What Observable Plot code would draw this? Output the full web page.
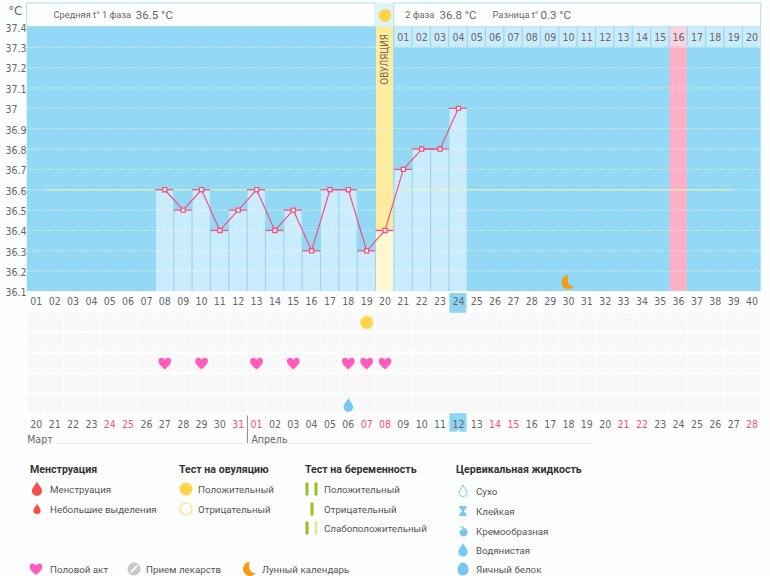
<!DOCTYPE html>
<html lang="ru">
<head>
<meta charset="utf-8">
<script src="https://cdn.jsdelivr.net/npm/d3@7"></script>
<script src="https://cdn.jsdelivr.net/npm/@observablehq/plot@0.6"></script>
<style>
  html, body { margin: 0; padding: 0; background: #fdfefe; }
  body { width: 770px; height: 576px; overflow: hidden; position: relative; font-family: Roboto, sans-serif; }
  svg { display: block; }
  #legend { position: absolute; left: 0; top: 456px; width: 770px; height: 120px; font-size: 9.75px; color: #555; }
  #legend .t { position: absolute; white-space: nowrap; transform: translateY(-50%); line-height: 14px; margin-top: 0.6px; }
  #legend .h { font-weight: 700; color: #333; font-size: 10.6px; margin-top: 0; }
  #legend svg { position: absolute; overflow: visible; }
</style>
</head>
<body>
<div id="chart"></div>
<div id="legend"></div>
<script>
// ---- data ----
const days = d3.range(1, 41);
const temperatureDays = [8, 9, 10, 11, 12, 13, 14, 15, 16, 17, 18, 19, 20, 21, 22, 23, 24];
const temperatures = [36.6, 36.5, 36.6, 36.4, 36.5, 36.6, 36.4, 36.5, 36.3, 36.6, 36.6, 36.3, 36.4, 36.7, 36.8, 36.8, 37.0];
const temperatureTicks = [37.4, 37.3, 37.2, 37.1, 37.0, 36.9, 36.8, 36.7, 36.6, 36.5, 36.4, 36.3, 36.2, 36.1];
const lutealDays = [21, 22, 23, 24, 25, 26, 27, 28, 29, 30, 31, 32, 33, 34, 35, 36, 37, 38, 39, 40];
const lutealLabels = ["01", "02", "03", "04", "05", "06", "07", "08", "09", "10", "11", "12", "13", "14", "15", "16", "17", "18", "19", "20"];
const calendarLabels = ["20", "21", "22", "23", "24", "25", "26", "27", "28", "29", "30", "31", "01", "02", "03", "04", "05", "06", "07", "08", "09", "10", "11", "12", "13", "14", "15", "16", "17", "18", "19", "20", "21", "22", "23", "24", "25", "26", "27", "28"];
const weekendDays = [5, 6, 12, 13, 19, 20, 26, 27, 33, 34, 40];
const ovulationDay = 20;
const todayDay = 24;
const expectedPeriodDay = 36;
const moonDay = 30;
const coverTemperature = 36.6;
const intercourseDays = [8, 10, 13, 15, 18, 19, 20];
const ovulationTestDays = [19];
const mucusDays = [18];
const rows = [1, 2, 3, 4, 5];
const temps = temperatureDays.map((day, i) => ({day, temp: temperatures[i]}));
const cells = d3.cross(days, rows).map(([day, row]) => ({day, row}));

// ---- colours ----
const GREY = "#666", RED = "#f2527c", SKY = "#93d9f6", PALE = "#cbecfd", YELLOW = "#ffd54a";
const FONT = "'DejaVu Sans Condensed', 'DejaVu Sans', sans-serif";
const CAPTION = "Roboto, sans-serif";

// ---- glyphs ----
const heart = {draw(c, size) {
  const r = Math.sqrt(size / Math.PI);
  c.moveTo(0, 0.95 * r);
  c.bezierCurveTo(-1.35 * r, 0.05 * r, -1.15 * r, -0.85 * r, -0.5 * r, -0.85 * r);
  c.bezierCurveTo(-0.25 * r, -0.85 * r, -0.07 * r, -0.7 * r, 0, -0.5 * r);
  c.bezierCurveTo(0.07 * r, -0.7 * r, 0.25 * r, -0.85 * r, 0.5 * r, -0.85 * r);
  c.bezierCurveTo(1.15 * r, -0.85 * r, 1.35 * r, 0.05 * r, 0, 0.95 * r);
  c.closePath();
}};
const drop = {draw(c, size) {
  const r = Math.sqrt(size / Math.PI);
  c.moveTo(0, -1.1 * r);
  c.bezierCurveTo(0.12 * r, -0.6 * r, 0.72 * r, -0.25 * r, 0.72 * r, 0.28 * r);
  c.arc(0, 0.28 * r, 0.72 * r, 0, Math.PI);
  c.bezierCurveTo(-0.72 * r, -0.25 * r, -0.12 * r, -0.6 * r, 0, -1.1 * r);
  c.closePath();
}};
const crescent = {draw(c, size) {
  const r = Math.sqrt(size / Math.PI);
  c.moveTo(-0.05 * r, -r);
  c.arc(0, 0, r, -Math.PI * 0.52, Math.PI * 0.2, true);
  c.bezierCurveTo(0.3 * r, 0.65 * r, -0.35 * r, 0.2 * r, -0.05 * r, -r);
  c.closePath();
}};
const hourglass = {draw(c, size) {
  const r = Math.sqrt(size / Math.PI);
  c.moveTo(-0.75 * r, -r); c.lineTo(0.75 * r, -r); c.lineTo(0.75 * r, -0.7 * r);
  c.lineTo(0.18 * r, 0); c.lineTo(0.75 * r, 0.7 * r); c.lineTo(0.75 * r, r);
  c.lineTo(-0.75 * r, r); c.lineTo(-0.75 * r, 0.7 * r); c.lineTo(-0.18 * r, 0);
  c.lineTo(-0.75 * r, -0.7 * r); c.closePath();
}};
const creamy = {draw(c, size) {
  const r = Math.sqrt(size / Math.PI);
  c.moveTo(-0.8 * r, -r);
  c.bezierCurveTo(0, -0.8 * r, 0.85 * r, -0.4 * r, 0.85 * r, 0.25 * r);
  c.arc(0.1 * r, 0.25 * r, 0.75 * r, 0, Math.PI);
  c.bezierCurveTo(-0.65 * r, -0.1 * r, -0.2 * r, -0.35 * r, 0.05 * r, -0.3 * r);
  c.bezierCurveTo(-0.2 * r, -0.6 * r, -0.5 * r, -0.8 * r, -0.8 * r, -r);
  c.closePath();
}};
const egg = {draw(c, size) {
  const r = Math.sqrt(size / Math.PI);
  c.moveTo(0, -r);
  c.bezierCurveTo(0.5 * r, -r, 0.85 * r, -0.35 * r, 0.85 * r, 0.15 * r);
  c.bezierCurveTo(0.85 * r, 0.65 * r, 0.45 * r, r, 0, r);
  c.bezierCurveTo(-0.45 * r, r, -0.85 * r, 0.65 * r, -0.85 * r, 0.15 * r);
  c.bezierCurveTo(-0.85 * r, -0.35 * r, -0.5 * r, -r, 0, -r);
  c.closePath();
}};

// ---- upper chart: temperature ----
const xScale = {domain: [0.5, 40.5], range: [26.7, 760.7], axis: null};
const top0 = 37.515; // upper edge of the header strip
const base = 36.1;
const one = [0];

const upper = Plot.plot({
  width: 770, height: 313,
  marginLeft: 26.7, marginRight: 9.3, marginTop: 3, marginBottom: 22,
  x: xScale,
  y: {domain: [base, top0], range: [291, 3], axis: null},
  style: {background: "transparent", fontFamily: FONT, fontSize: "10.5px", color: GREY},
  marks: [
    Plot.rect(one, {x1: 0.5, x2: 40.5, y1: base, y2: 37.4, fill: SKY}),
    // header strip
    Plot.rect(one, {x1: 0.5, x2: 19.5, y1: 37.4, y2: top0, fill: "#fff", stroke: "#a6e0f8"}),
    Plot.rect(one, {x1: 19.5, x2: 20.5, y1: 37.4, y2: top0, fill: "#def3fd"}),
    Plot.rect(one, {x1: 20.5, x2: 40.5, y1: 37.4, y2: top0, fill: "#fff", stroke: "#a6e0f8"}),
    // luteal day strip
    Plot.rect(lutealDays, {x1: d => d - 0.5, x2: d => d + 0.5, y1: 37.3, y2: 37.4, insetLeft: 0.6, insetRight: 0.6,
      fill: d => d === expectedPeriodDay ? "#fbd3de" : PALE}),
    // expected period and ovulation bands
    Plot.rect(one, {x1: expectedPeriodDay - 0.5, x2: expectedPeriodDay + 0.5, y1: base, y2: 37.3, insetLeft: 0.6, insetRight: 0.6, fill: "#feb0c6"}),
    Plot.rect(one, {x1: ovulationDay - 0.5, x2: ovulationDay + 0.5, y1: base, y2: 37.4, insetLeft: 0.6, insetRight: 0.6, fill: "#fdec9e"}),
    // temperature columns
    Plot.rect(temps, {x1: d => d.day - 0.5, x2: d => d.day + 0.5, y1: base, y2: "temp", insetLeft: 0.8, insetRight: 0.4,
      fill: d => d.day === ovulationDay ? "#fff6d2" : PALE}),
    // grid
    Plot.ruleY(temperatureTicks.slice(1), {x1: 0.5, x2: 40.5, stroke: "#fff", strokeDasharray: "1 2", strokeWidth: 1, strokeOpacity: 0.95}),
    Plot.ruleY([coverTemperature], {x1: 1.5, x2: 38.95, stroke: "#eef3a8", strokeWidth: 1}),
    // temperature line
    Plot.ruleY(temps, {y: "temp", x1: d => d.day - 0.5, x2: d => d.day + 0.5, stroke: RED, strokeWidth: 1.3}),
    Plot.line(temps, {x: "day", y: "temp", stroke: RED, strokeWidth: 1.2}),
    Plot.dot(temps, {x: "day", y: "temp", symbol: "square", r: 2.3, fill: "#fff", stroke: RED, strokeWidth: 1.3}),
    // moon, ovulation marker
    Plot.dot(one, {x: moonDay, y: 36.146, symbol: crescent, r: 7, fill: "#f39a16"}),
    Plot.dot(one, {x: ovulationDay, y: 37.456, r: 6.5, fill: YELLOW}),
    Plot.text(["ОВУЛЯЦИЯ"], {x: ovulationDay, y: 37.24, rotate: -90, fill: "#6f6a50", fontSize: 9.8}),
    // header captions
    Plot.text(["Средняя t° 1 фаза"], {x: 1.93, y: 37.456, textAnchor: "start", fontFamily: CAPTION, fontSize: 9.3, fill: GREY}),
    Plot.text(["36.5 °C"], {x: 6.42, y: 37.456, textAnchor: "start", fontFamily: CAPTION, fontSize: 11.5, fill: GREY}),
    Plot.text(["2 фаза"], {x: 21.1, y: 37.456, textAnchor: "start", fontFamily: CAPTION, fontSize: 9.3, fill: GREY}),
    Plot.text(["36.8 °C"], {x: 22.97, y: 37.456, textAnchor: "start", fontFamily: CAPTION, fontSize: 11.5, fill: GREY}),
    Plot.text(["Разница t°"], {x: 25.86, y: 37.456, textAnchor: "start", fontFamily: CAPTION, fontSize: 9.3, fill: GREY}),
    Plot.text(["0.3 °C"], {x: 28.47, y: 37.456, textAnchor: "start", fontFamily: CAPTION, fontSize: 11.5, fill: GREY}),
    Plot.text(["°C"], {x: 0.5, y: 37.48, dx: -19, textAnchor: "start", fontSize: 13, fill: GREY}),
    // luteal day numbers
    Plot.text(lutealDays, {x: d => d, y: 37.35, text: (d, i) => lutealLabels[i], fill: GREY, fontSize: 10.5,
      dy: 0.5}),
    // today highlight on the axis
    Plot.rect(one, {x1: todayDay - 0.5, x2: todayDay + 0.5, y1: 36.09, y2: 35.993, insetLeft: 0.6, insetRight: 0.6, fill: "#8ed5f2"}),
    Plot.axisX(days, {anchor: "bottom", tickSize: 0, tickPadding: 6, label: null, fontSize: 10.5, fill: GREY,
      tickFormat: d => String(d).padStart(2, "0")}),
    Plot.axisY(temperatureTicks, {anchor: "left", tickSize: 0, tickPadding: 21.7, textAnchor: "start", label: null, fontSize: 10.5, fill: GREY, dy: 1.5,
      tickFormat: d => Number.isInteger(d) ? String(d) : d3.format(".1f")(d)})
  ]
});

// ---- lower chart: observations and calendar ----
const lower = Plot.plot({
  width: 770, height: 143,
  marginLeft: 26.7, marginRight: 9.3, marginTop: 0, marginBottom: 0,
  x: xScale,
  y: {domain: [1, 6], range: [9, 111], axis: null},
  style: {background: "transparent", fontFamily: FONT, fontSize: "10.5px", color: GREY},
  marks: [
    Plot.rect(cells, {x1: d => d.day - 0.5, x2: d => d.day + 0.5, y1: d => d.row - 0.44, y2: d => d.row + 0.44, insetLeft: 0.5, insetRight: 0.5, fill: "#f8f8f8"}),
    Plot.dot(ovulationTestDays, {x: d => d, y: 1, r: 6.5, fill: YELLOW}),
    Plot.dot(intercourseDays, {x: d => d, y: 3, symbol: heart, r: 6.4, fill: "#ff5dbb"}),
    Plot.dot(mucusDays, {x: d => d, y: 5.05, symbol: drop, r: 6.7, fill: "#78c6f2"}),
    Plot.rect(one, {x1: todayDay - 0.5, x2: todayDay + 0.5, y1: 5.47, y2: 6.38, insetLeft: 0.6, insetRight: 0.6, fill: "#8ed5f2"}),
    Plot.dot(one, {x: todayDay, y: 6.36, symbol: "triangle", r: 1.6, fill: "#fff"}),
    Plot.text(days, {x: d => d, y: 6, text: (d, i) => calendarLabels[i], fontSize: 10.5,
      fill: d => weekendDays.includes(d) ? "#f2527c" : GREY}),
    Plot.ruleX([12.5], {y1: 5.58, y2: 6.93, stroke: "#888", strokeWidth: 1}),
    Plot.ruleY([6.93], {x1: 0.5, x2: 31.5, stroke: "#eeeeee", strokeWidth: 1}),
    Plot.text(["Март"], {x: 0.5, y: 6.74, textAnchor: "start", fontSize: 10.5, fill: GREY}),
    Plot.text(["Апрель"], {x: 12.5, y: 6.74, dx: 4, textAnchor: "start", fontSize: 10.5, fill: GREY})
  ]
});

document.getElementById("chart").append(upper, lower);

// ---- legend (coordinates are page pixels, shifted to the legend box) ----
const legend = document.getElementById("legend");
const OFFSET = 456;
function label(x, y, text, cls = "") {
  const el = document.createElement("div");
  el.className = "t " + cls;
  el.style.left = x + "px";
  el.style.top = (y - OFFSET) + "px";
  el.textContent = text;
  legend.append(el);
}
function icon(x, y, draw) {
  const svg = d3.create("svg").attr("width", 1).attr("height", 1)
    .style("left", x + "px").style("top", (y - OFFSET) + "px");
  draw(svg);
  legend.append(svg.node());
}
const sym = (type, r, fill, stroke) => g => g.append("path")
  .attr("d", d3.symbol(type, Math.PI * r * r)())
  .attr("fill", fill).attr("stroke", stroke || "none").attr("stroke-width", 1.1);

label(30, 470, "Менструация", "h");
icon(37, 489, sym(drop, 7, "#f9504f")); label(50, 489, "Менструация");
icon(37, 509, sym(drop, 5, "#f9504f")); label(50, 509, "Небольшие выделения");

label(179, 470, "Тест на овуляцию", "h");
icon(186, 489, sym(d3.symbolCircle, 6.5, YELLOW)); label(198, 489, "Положительный");
icon(186, 509, sym(d3.symbolCircle, 6, "#fff", "#ffdf78")); label(198, 509, "Отрицательный");

const bar = (dx, fill) => g => g.append("rect").attr("x", dx - 1.5).attr("y", -6.5).attr("width", 3).attr("height", 13).attr("fill", fill);
label(305, 470, "Тест на беременность", "h");
icon(307, 489, bar(0, "#97c21e")); icon(316, 489, bar(0, "#97c21e")); label(324, 489, "Положительный");
icon(311.5, 509, bar(0, "#97c21e")); label(324, 509, "Отрицательный");
icon(307, 528, bar(0, "#97c21e")); icon(316, 528, bar(0, "#dcebb0")); label(324, 528, "Слабоположительный");

label(456, 470, "Цервикальная жидкость", "h");
icon(463, 491, sym(drop, 5.5, "#fff", "#8fd0f3")); label(476, 491, "Сухо");
icon(463, 511, sym(hourglass, 5, "#78c6f2")); label(476, 511, "Клейкая");
icon(463, 531, sym(creamy, 5.5, "#78c6f2")); label(476, 531, "Кремообразная");
icon(463, 550, sym(drop, 6.5, "#78c6f2")); label(476, 550, "Водянистая");
icon(463, 569, sym(egg, 6.5, "#78c6f2")); label(476, 569, "Яичный белок");

icon(36, 569, sym(heart, 6.4, "#ff5dbb")); label(50, 569, "Половой акт");
icon(134, 569, g => {
  sym(d3.symbolCircle, 6.5, "#c9c9c9")(g);
  g.append("line").attr("x1", -3).attr("y1", 3.4).attr("x2", 3).attr("y2", -3.4).attr("stroke", "#fff").attr("stroke-width", 1.8);
});
label(146, 569, "Прием лекарств");
icon(250, 569, sym(crescent, 7, "#f39a16")); label(262, 569, "Лунный календарь");
</script>
</body>
</html>
